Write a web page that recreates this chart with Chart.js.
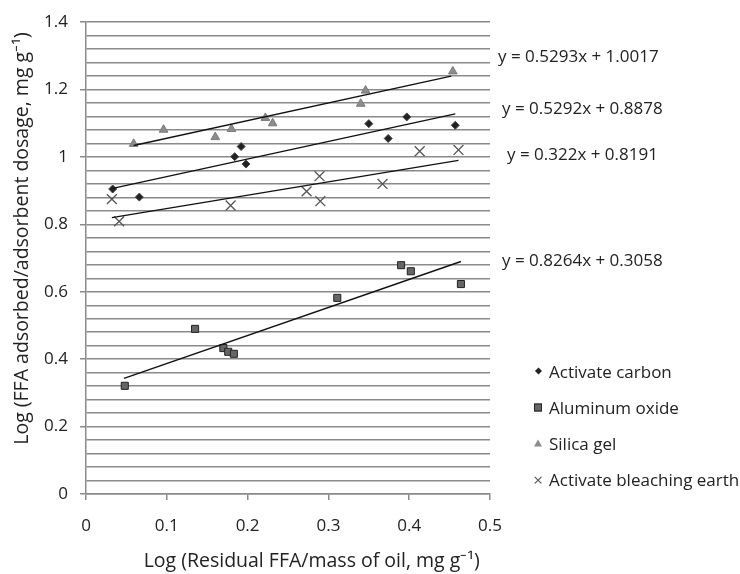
<!DOCTYPE html>
<html>
<head>
<meta charset="utf-8">
<script src="https://cdn.jsdelivr.net/npm/chart.js@4/dist/chart.umd.min.js"></script>
<style>
  body { margin: 0; background: #fff; }
  #wrap { position: relative; width: 740px; height: 574px; font-family: "Open Sans", sans-serif; color: #222; }
  .eq { position: absolute; font-size: 17px; transform: translateY(-50%); white-space: nowrap; }
  .leg { position: absolute; left: 530px; font-size: 17px; transform: translateY(-50%); white-space: nowrap; display: flex; align-items: center; }
  .mk { width: 16px; margin-right: 3px; display: flex; justify-content: center; align-items: center; }
  .dia { width: 5px; height: 5px; background: #222; transform: rotate(45deg); }
  .sq { width: 6px; height: 6px; background: #666; border: 1px solid #222; }
  .tri { width: 0; height: 0; border-left: 4px solid transparent; border-right: 4px solid transparent; border-bottom: 7px solid #8c8c8c; }
  .crs { color: #555; font-size: 17px; line-height: 1; }
</style>
</head>
<body>
<div id="wrap">
  <canvas id="chart" width="740" height="574"></canvas>
  <div class="eq" style="left:498px; top:55px">y = 0.5293x + 1.0017</div>
  <div class="eq" style="left:502px; top:107px">y = 0.5292x + 0.8878</div>
  <div class="eq" style="left:507px; top:153px">y = 0.322x + 0.8191</div>
  <div class="eq" style="left:502px; top:259px">y = 0.8264x + 0.3058</div>
  <div class="leg" style="top:371px"><span class="mk"><span class="dia"></span></span>Activate carbon</div>
  <div class="leg" style="top:407px"><span class="mk"><span class="sq"></span></span>Aluminum oxide</div>
  <div class="leg" style="top:443px"><span class="mk"><span class="tri"></span></span>Silica gel</div>
  <div class="leg" style="top:479px"><span class="mk"><span class="crs">×</span></span>Activate bleaching earth</div>
</div>
<script>
// data
const carbonX = [0.033, 0.066, 0.184, 0.192, 0.198, 0.350, 0.374, 0.397, 0.457];
const carbonY = [0.905, 0.881, 1.001, 1.031, 0.979, 1.099, 1.055, 1.119, 1.094];
const aluminaX = [0.048, 0.135, 0.170, 0.176, 0.183, 0.311, 0.390, 0.402, 0.464];
const aluminaY = [0.321, 0.490, 0.433, 0.422, 0.416, 0.582, 0.679, 0.661, 0.623];
const silicaX = [0.059, 0.096, 0.160, 0.180, 0.222, 0.231, 0.340, 0.346, 0.454];
const silicaY = [1.039, 1.081, 1.059, 1.083, 1.116, 1.100, 1.158, 1.197, 1.254];
const earthX = [0.032, 0.041, 0.179, 0.273, 0.289, 0.290, 0.367, 0.413, 0.461];
const earthY = [0.875, 0.809, 0.856, 0.898, 0.943, 0.869, 0.920, 1.017, 1.021];

// trend line ends
const silicaFitX = [0.059, 0.452];
const silicaFitY = [1.034, 1.240];
const carbonFitX = [0.033, 0.457];
const carbonFitY = [0.907, 1.128];
const earthFitX = [0.032, 0.461];
const earthFitY = [0.820, 0.990];
const aluminaFitX = [0.047, 0.464];
const aluminaFitY = [0.343, 0.690];

const xTitle = 'Log (Residual FFA/mass of oil, mg g\u207B\u00B9)';
const yTitle = 'Log (FFA adsorbed/adsorbent dosage, mg g\u207B\u00B9)';

function pts(xs, ys) {
    return xs.map((x, i) => ({x: x, y: ys[i]}));
}
function isMajor(v) {
    return Math.abs(v / 0.2 - Math.round(v / 0.2)) < 1e-6;
}

const gridColor = '#8a8a8a';
const fitStyle = {showLine: true, pointRadius: 0, borderColor: '#111', borderWidth: 1.4, fill: false};

let ctx = document.getElementById('chart');
let chart = new Chart(ctx, {
    type: 'scatter',
    data: {
        datasets: [
            Object.assign({label: 'fit1', data: pts(silicaFitX, silicaFitY)}, fitStyle),
            Object.assign({label: 'fit2', data: pts(carbonFitX, carbonFitY)}, fitStyle),
            Object.assign({label: 'fit3', data: pts(earthFitX, earthFitY)}, fitStyle),
            Object.assign({label: 'fit4', data: pts(aluminaFitX, aluminaFitY)}, fitStyle),
            {
                label: 'Activate carbon',
                data: pts(carbonX, carbonY),
                pointStyle: 'rectRot', pointRadius: 4,
                backgroundColor: '#222', borderColor: '#444', borderWidth: 1
            },
            {
                label: 'Aluminum oxide',
                data: pts(aluminaX, aluminaY),
                pointStyle: 'rect', pointRadius: 5,
                backgroundColor: '#666', borderColor: '#222', borderWidth: 1
            },
            {
                label: 'Silica gel',
                data: pts(silicaX, silicaY),
                pointStyle: 'triangle', pointRadius: 5,
                backgroundColor: '#8c8c8c', borderColor: '#7a7a7a', borderWidth: 1
            },
            {
                label: 'Activate bleaching earth',
                data: pts(earthX, earthY),
                pointStyle: 'crossRot', pointRadius: 7,
                backgroundColor: '#555', borderColor: '#555', borderWidth: 1.3
            }
        ]
    },
    options: {
        responsive: false,
        animation: false,
        devicePixelRatio: 1,
        layout: {padding: {left: 0, right: 250, top: 22, bottom: 0}},
        plugins: {legend: {display: false}, tooltip: {enabled: false}},
        scales: {
            x: {
                type: 'linear', min: 0, max: 0.5,
                afterFit: s => { s.height = 80; },
                ticks: {stepSize: 0.1, color: '#222', padding: 16, font: {family: 'Open Sans', size: 17},
                    callback: v => String(Math.round(v * 10) / 10)},
                grid: {drawOnChartArea: false, tickLength: 6, color: gridColor, lineWidth: 1.5},
                border: {color: gridColor, width: 1.5},
                title: {display: true, text: xTitle + '  ', align: 'end', color: '#222',
                    font: {family: 'Open Sans', size: 19.5}, padding: {top: 0, bottom: 1}}
            },
            y: {
                type: 'linear', min: 0, max: 1.4,
                afterFit: s => { s.width = 86; },
                ticks: {stepSize: 0.04, autoSkip: false, color: '#222', padding: 12,
                    font: {family: 'Open Sans', size: 17},
                    callback: v => isMajor(v) ? String(Math.round(v * 10) / 10) : ''},
                grid: {color: gridColor, lineWidth: 1.5, tickLength: 6,
                    tickColor: c => (c.tick && isMajor(c.tick.value)) ? gridColor : 'rgba(0,0,0,0)'},
                border: {color: gridColor, width: 1.5},
                title: {display: true, text: yTitle + '  ', align: 'end', color: '#222',
                    font: {family: 'Open Sans', size: 19.5}, padding: {top: 11, bottom: 0}}
            }
        }
    }
});
</script>
</body>
</html>
